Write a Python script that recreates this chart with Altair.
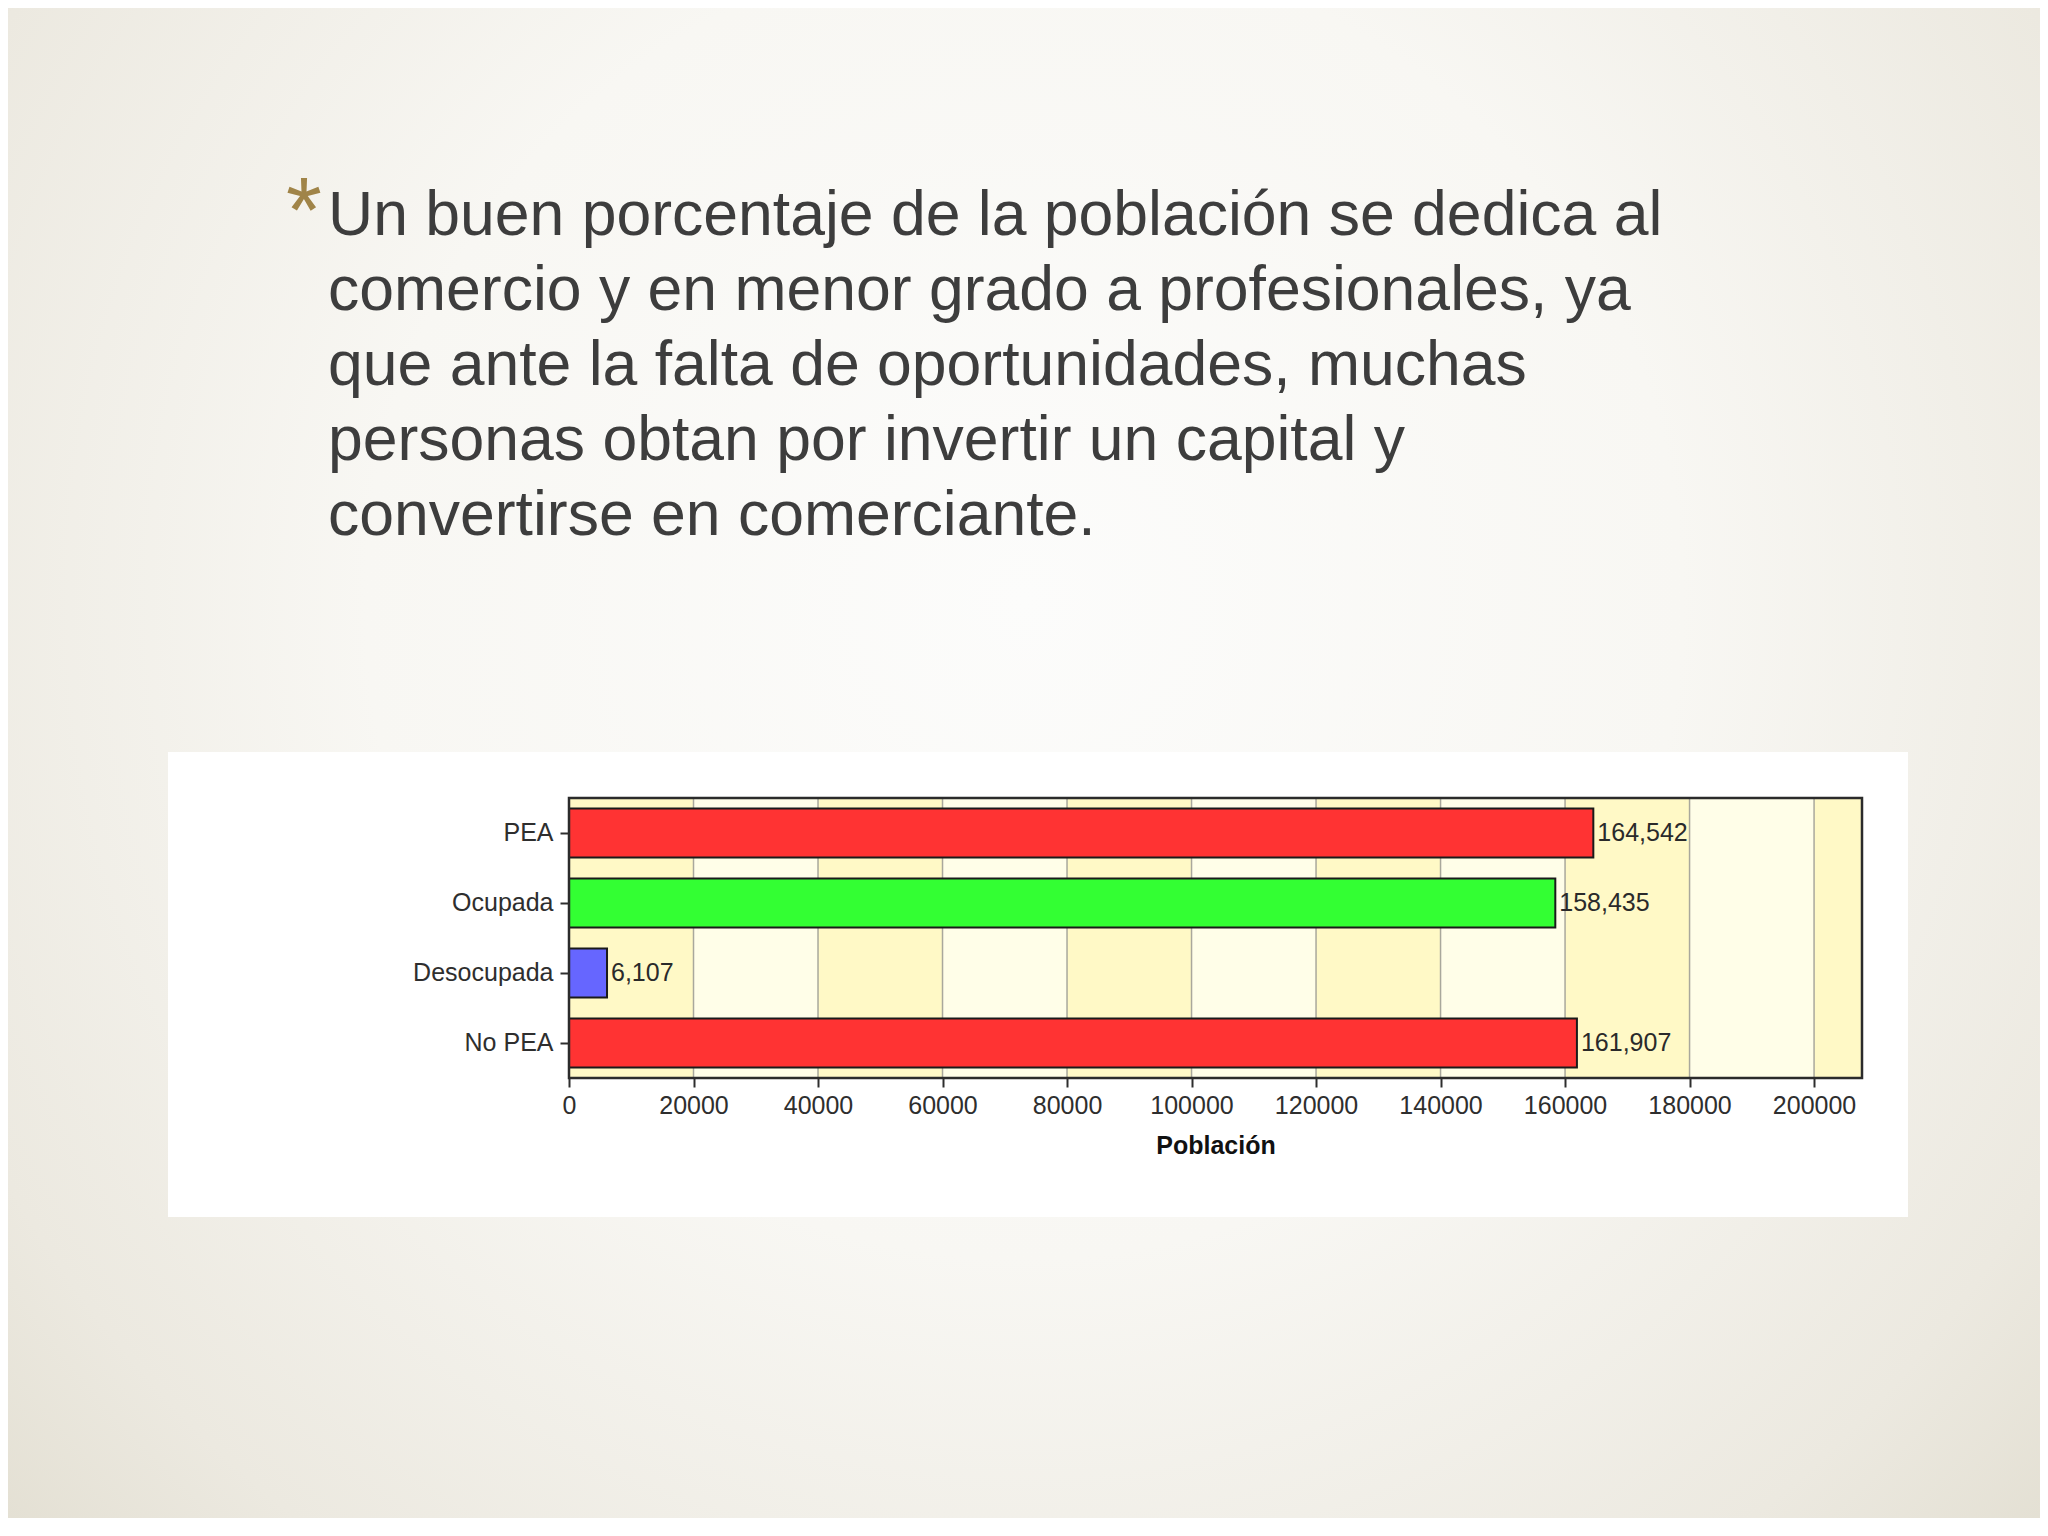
import altair as alt
import pandas as pd

# ---- data ----
categories = ["PEA", "Ocupada", "Desocupada", "No PEA"]
values = [164542, 158435, 6107, 161907]
bar_colors = ["#FF3333", "#33FF33", "#6666FF", "#FF3333"]
tick_values = [0, 20000, 40000, 60000, 80000, 100000, 120000, 140000, 160000, 180000, 200000]
x_max = 207700
stripe_start = [0, 20000, 40000, 60000, 80000, 100000, 120000, 140000, 160000, 180000, 200000]
stripe_end = [20000, 40000, 60000, 80000, 100000, 120000, 140000, 160000, 180000, 200000, 207700]
stripe_kind = ["a", "b", "a", "b", "a", "b", "a", "b", "a", "b", "a"]
slide_lines = [
    "Un buen porcentaje de la población se dedica al",
    "comercio y en menor grado a profesionales, ya",
    "que ante la falta de oportunidades, muchas",
    "personas obtan por invertir un capital y",
    "convertirse en comerciante.",
]

bars_df = pd.DataFrame({"cat": categories, "value": values, "color": bar_colors})
stripes_df = pd.DataFrame({"s": stripe_start, "e": stripe_end, "k": stripe_kind})
ticks_df = pd.DataFrame({"t": tick_values[1:]})

# ---- layout (pixels, relative to plot area) ----
W, H = 1293, 280
PAD_L, PAD_T, PAD_R, PAD_B = 561, 790, 178, 440
FONT = "Liberation Sans"

xscale = alt.Scale(domain=[0, x_max], nice=False, zero=True)
yscale = alt.Scale(domain=categories, paddingInner=0.3, paddingOuter=0.15)

x_axis = alt.Axis(
    values=tick_values, format="d", title="Población", zindex=2,
    grid=False, domain=False, labelFlush=False,
    labelFont=FONT, labelFontSize=25, labelColor="#2E2E2E", labelPadding=6,
    tickColor="#2E2E2E", tickSize=9, tickWidth=2,
    titleFont=FONT, titleFontSize=25, titleFontWeight="bold", titleColor="#111111",
    titlePadding=15,
)
y_axis = alt.Axis(
    title=None, zindex=2, grid=False, domain=False,
    labelFont=FONT, labelFontSize=25, labelColor="#2E2E2E", labelPadding=7,
    tickColor="#2E2E2E", tickSize=9, tickWidth=2,
)

one = pd.DataFrame({"a": [0]})

background = alt.Chart(one).mark_rect(
    fill={
        "gradient": "radial",
        "x1": 0.5, "y1": 0.42, "r1": 0.0,
        "x2": 0.5, "y2": 0.42, "r2": 0.72,
        "stops": [
            {"offset": 0.0, "color": "#FCFCFB"},
            {"offset": 0.45, "color": "#F8F7F3"},
            {"offset": 0.8, "color": "#ECE9E0"},
            {"offset": 1.0, "color": "#E0DCCE"},
        ],
    }
).encode(
    x=alt.value(-PAD_L), x2=alt.value(W + PAD_R),
    y=alt.value(-PAD_T), y2=alt.value(H + PAD_B),
)

white_box = alt.Chart(one).mark_rect(fill="#FFFFFF").encode(
    x=alt.value(-401), x2=alt.value(1339),
    y=alt.value(-46), y2=alt.value(419),
)

stripes = alt.Chart(stripes_df).mark_rect().encode(
    x=alt.X("s:Q", scale=xscale, axis=x_axis),
    x2="e:Q",
    y=alt.value(0), y2=alt.value(H),
    color=alt.Color("k:N", scale=alt.Scale(domain=["a", "b"], range=["#FFF9C6", "#FFFEE8"]), legend=None),
)

grid = alt.Chart(ticks_df).mark_rule(color="#A9A89C", strokeWidth=1.5).encode(
    x=alt.X("t:Q", scale=xscale, axis=x_axis),
    y=alt.value(0), y2=alt.value(H),
)

bars = alt.Chart(bars_df).mark_bar(stroke="#1A1A1A", strokeWidth=2).encode(
    x=alt.X("value:Q", scale=xscale, axis=x_axis),
    y=alt.Y("cat:N", scale=yscale, sort=categories, axis=y_axis),
    color=alt.Color("color:N", scale=None),
)

labels = alt.Chart(bars_df).mark_text(
    align="left", baseline="middle", dx=4, font=FONT, fontSize=25, color="#2A2A2A"
).encode(
    x=alt.X("value:Q", scale=xscale, axis=x_axis),
    y=alt.Y("cat:N", scale=yscale, sort=categories, axis=y_axis),
    text=alt.Text("value:Q", format=",d"),
)

border = alt.Chart(one).mark_rect(fillOpacity=0, stroke="#2B2B2B", strokeWidth=2.5).encode(
    x=alt.value(0), x2=alt.value(W), y=alt.value(0), y2=alt.value(H),
)

slide_text = alt.Chart(one).mark_text(
    text=slide_lines, align="left", baseline="alphabetic", lineHeight=75,
    font=FONT, fontSize=62.5, color="#3D3D3D",
).encode(x=alt.value(-241), y=alt.value(-563))

bullet = alt.Chart(one).mark_text(
    text="*", align="left", baseline="alphabetic",
    font=FONT, fontSize=92, color="#A08448",
).encode(x=alt.value(-283), y=alt.value(-556))

chart = alt.layer(
    background, white_box, stripes, grid, bars, labels, border, slide_text, bullet
).properties(
    width=W, height=H,
    padding={"left": PAD_L, "top": PAD_T, "right": PAD_R, "bottom": PAD_B},
    autosize=alt.AutoSizeParams(type="none"),
).configure_view(
    stroke=None
)

chart.save("out.html", embed_options={"renderer": "svg", "actions": False})
